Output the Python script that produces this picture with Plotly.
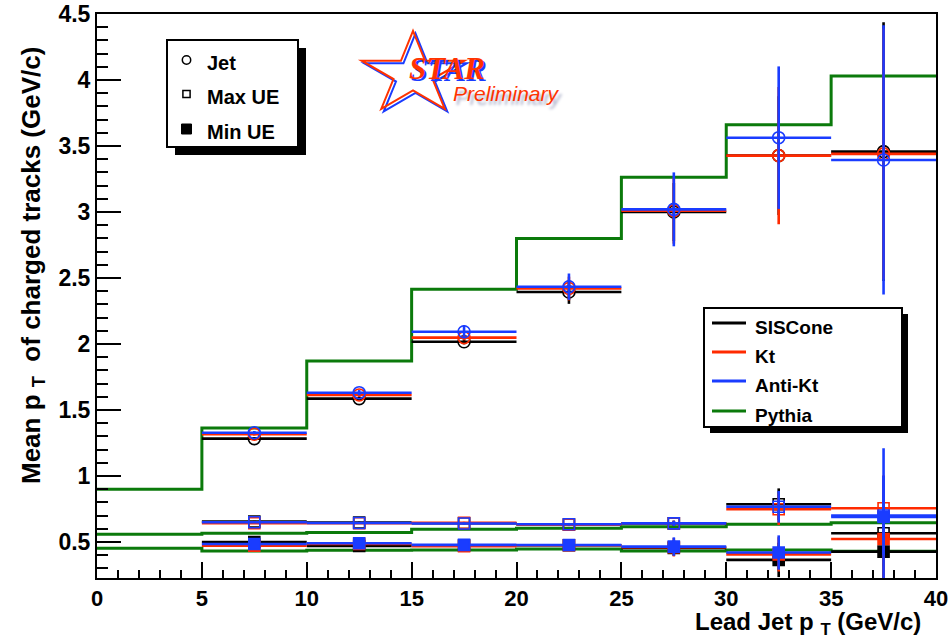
import numpy as np
import plotly.graph_objects as go

# ---- data -------------------------------------------------------------
bin_edges = [0, 5, 10, 15, 20, 25, 30, 35, 40]
data_edges = bin_edges[1:]              # measured bins start at 5 GeV/c

# mean pT of charged tracks, jet region
jet_siscone = [1.283, 1.586, 2.017, 2.394, 3.000, 3.427, 3.457]
jet_kt      = [1.316, 1.614, 2.048, 2.420, 3.010, 3.427, 3.440]
jet_antikt  = [1.328, 1.631, 2.093, 2.434, 3.020, 3.563, 3.394]
jet_err_siscone = [0.010, 0.015, 0.020, 0.090, 0.220, 0.450, 0.980]
jet_err_kt      = [0.010, 0.015, 0.020, 0.090, 0.250, 0.520, 0.950]
jet_err_antikt  = [0.012, 0.020, 0.050, 0.100, 0.280, 0.540, 1.020]

# Max UE region
max_siscone = [0.655, 0.648, 0.642, 0.632, 0.641, 0.786, 0.566]
max_kt      = [0.642, 0.642, 0.645, 0.630, 0.641, 0.748, 0.755]
max_antikt  = [0.649, 0.644, 0.640, 0.634, 0.641, 0.767, 0.700]
max_err_siscone = [0.005, 0.006, 0.008, 0.010, 0.020, 0.120, 0.250]
max_err_kt      = [0.005, 0.006, 0.008, 0.010, 0.020, 0.120, 0.250]
max_err_antikt  = [0.005, 0.006, 0.008, 0.010, 0.020, 0.120, 0.300]

# Min UE region
min_siscone = [0.500, 0.470, 0.475, 0.475, 0.455, 0.364, 0.427]
min_kt      = [0.472, 0.485, 0.468, 0.475, 0.460, 0.406, 0.523]
min_antikt  = [0.485, 0.490, 0.478, 0.477, 0.465, 0.420, 0.690]
min_err_siscone = [0.005, 0.006, 0.008, 0.010, 0.060, 0.130, 0.450]
min_err_kt      = [0.005, 0.006, 0.008, 0.010, 0.070, 0.130, 0.450]
min_err_antikt  = [0.005, 0.006, 0.008, 0.010, 0.070, 0.130, 0.520]

# Pythia predictions (histograms over all bins)
pythia_jet = [0.900, 1.364, 1.871, 2.414, 2.800, 3.263, 3.660, 4.030]
pythia_max = [0.558, 0.566, 0.571, 0.596, 0.604, 0.616, 0.634, 0.646]
pythia_min = [0.452, 0.432, 0.437, 0.440, 0.447, 0.432, 0.440, 0.430]

x_ticks = [0, 5, 10, 15, 20, 25, 30, 35, 40]
y_ticks = [0.5, 1, 1.5, 2, 2.5, 3, 3.5, 4, 4.5]
y_tick_text = ["0.5", "1", "1.5", "2", "2.5", "3", "3.5", "4", "4.5"]

algo_names = ["SISCone", "Kt", "Anti-Kt", "Pythia"]
region_names = ["Jet", "Max UE", "Min UE"]

# ---- style ------------------------------------------------------------
BLACK, RED, BLUE, GREEN = "#000000", "#ff2a00", "#1a3cff", "#0b7a0b"
FONT = "Liberation Sans, Arial, Helvetica, sans-serif"
W, H = 951, 641
ML, MR, MT, MB = 97, 15, 14, 63


def pxx(x):
    return (x - ML) / (W - ML - MR)


def pxy(y):
    return (H - MB - y) / (H - MT - MB)


centers = [(a + b) / 2 for a, b in zip(data_edges[:-1], data_edges[1:])]
halfw = [(b - a) / 2 for a, b in zip(data_edges[:-1], data_edges[1:])]

fig = go.Figure()

# Pythia step histograms
for vals in (pythia_jet, pythia_max, pythia_min):
    fig.add_trace(go.Scatter(
        x=bin_edges, y=vals + [vals[-1]], mode="lines", line_shape="hv",
        line=dict(color=GREEN, width=3), hoverinfo="skip", showlegend=False))

series = [
    (BLACK, [(jet_siscone, jet_err_siscone), (max_siscone, max_err_siscone), (min_siscone, min_err_siscone)]),
    (RED,   [(jet_kt, jet_err_kt), (max_kt, max_err_kt), (min_kt, min_err_kt)]),
    (BLUE,  [(jet_antikt, jet_err_antikt), (max_antikt, max_err_antikt), (min_antikt, min_err_antikt)]),
]
symbols = [("circle-open", 12), ("square-open", 11), ("square", 11)]

for color, regions in series:
    for (vals, errs), (sym, size) in zip(regions, symbols):
        fig.add_trace(go.Scatter(
            x=centers, y=vals, mode="markers",
            marker=dict(symbol=sym, size=size, color=color, line=dict(color=color, width=1.6)),
            error_x=dict(type="data", array=halfw, thickness=2.6, width=0, color=color),
            error_y=dict(type="data", array=errs, thickness=2.6, width=0, color=color),
            hoverinfo="skip", showlegend=False))

shapes = []
annotations = []


def box_with_shadow(x0, y0, x1, y1, off=8):
    shapes.append(dict(type="rect", xref="paper", yref="paper",
                       x0=pxx(x0 + off), x1=pxx(x1 + off), y0=pxy(y0 + off), y1=pxy(y1 + off),
                       fillcolor="black", line=dict(width=0)))
    shapes.append(dict(type="rect", xref="paper", yref="paper",
                       x0=pxx(x0), x1=pxx(x1), y0=pxy(y0), y1=pxy(y1),
                       fillcolor="white", line=dict(color="black", width=2)))


# region legend (marker styles)
box_with_shadow(167, 40, 298, 147)
reg_rows = [62, 96, 131]
for name, row, kind in zip(region_names, reg_rows, ["circle", "open", "filled"]):
    if kind == "circle":
        r = 4.2
        shapes.append(dict(type="circle", xref="paper", yref="paper",
                           x0=pxx(186.5 - r), x1=pxx(186.5 + r), y0=pxy(row - 2 - r), y1=pxy(row - 2 + r),
                           line=dict(color="black", width=1.5)))
    elif kind == "open":
        r = 3.6
        shapes.append(dict(type="rect", xref="paper", yref="paper",
                           x0=pxx(186.5 - r), x1=pxx(186.5 + r), y0=pxy(row - 2 - r), y1=pxy(row - 2 + r),
                           line=dict(color="black", width=1.5)))
    else:
        r = 5
        shapes.append(dict(type="rect", xref="paper", yref="paper",
                           x0=pxx(186.5 - r), x1=pxx(186.5 + r), y0=pxy(row - 2 - r), y1=pxy(row - 2 + r),
                           fillcolor="black", line=dict(color="black", width=1)))
    annotations.append(dict(text=name, xref="paper", yref="paper", x=pxx(205), y=pxy(row + 1),
                            xanchor="left", yanchor="middle", showarrow=False,
                            font=dict(family=FONT, size=20, color="black", weight="bold")))

# algorithm legend (line styles)
box_with_shadow(704, 308, 902, 427, off=6)
alg_rows = [323, 352, 381, 411]
for name, row, color in zip(algo_names, alg_rows, [BLACK, RED, BLUE, GREEN]):
    shapes.append(dict(type="line", xref="paper", yref="paper",
                       x0=pxx(712), x1=pxx(746), y0=pxy(row), y1=pxy(row),
                       line=dict(color=color, width=3)))
    annotations.append(dict(text=name, xref="paper", yref="paper", x=pxx(753), y=pxy(row + 4),
                            xanchor="left", yanchor="middle", showarrow=False,
                            font=dict(family=FONT, size=19, color="black", weight="bold")))

# STAR Preliminary logo
def star_path(cx, cy, rx, ry, inner, dx=0.0, dy=0.0):
    pts = []
    for k in range(10):
        ang = -np.pi / 2 + k * np.pi / 5
        f = 1.0 if k % 2 == 0 else inner
        pts.append((cx + dx + f * rx * np.cos(ang), cy + dy + f * ry * np.sin(ang)))
    return "M " + " L ".join(f"{pxx(x):.5f},{pxy(y):.5f}" for x, y in pts) + " Z"


shapes.append(dict(type="path", xref="paper", yref="paper",
                   path=star_path(413, 74, 54, 43, 0.38, 2.5, 2.5),
                   line=dict(color=BLUE, width=2)))
shapes.append(dict(type="path", xref="paper", yref="paper",
                   path=star_path(413, 74, 54, 43, 0.38),
                   line=dict(color="#ff3300", width=2)))
annotations.append(dict(text="<b><i>STAR</i></b>", xref="paper", yref="paper",
                        x=pxx(447), y=pxy(69), xanchor="center", yanchor="middle", showarrow=False,
                        font=dict(family="Liberation Serif, Times New Roman, serif", size=31,
                                  color="#ff3300", shadow="2px 2px 0px #1a3cff")))
annotations.append(dict(text="<i>Preliminary</i>", xref="paper", yref="paper",
                        x=pxx(506), y=pxy(93), xanchor="center", yanchor="middle", showarrow=False,
                        font=dict(family=FONT, size=21, color="#ff3300",
                                  shadow="3px 4px 3px #a9aec8")))

# axis titles
annotations.append(dict(text="Lead Jet p\u00a0<sub>T</sub>\u00a0(GeV/c)", xref="paper", yref="paper",
                        x=pxx(923), y=pxy(641), xanchor="right", yanchor="bottom", showarrow=False,
                        font=dict(family=FONT, size=24, color="black", weight="bold")))
annotations.append(dict(text="Mean p\u00a0<sub>T</sub>\u00a0 of charged tracks (GeV/c)", xref="paper", yref="paper",
                        x=pxx(32), y=pxy(266), xanchor="center", yanchor="middle", showarrow=False,
                        textangle=-90,
                        font=dict(family=FONT, size=26, color="black", weight="bold")))

fig.update_layout(
    width=W, height=H,
    margin=dict(l=ML, r=MR, t=MT, b=MB, pad=0, autoexpand=False),
    paper_bgcolor="white", plot_bgcolor="white",
    showlegend=False,
    shapes=shapes, annotations=annotations,
    xaxis=dict(range=[0, 40], tickmode="array", tickvals=x_ticks, automargin=False,
               ticks="inside", ticklen=16, tickwidth=1.5, tickcolor="black",
               minor=dict(ticks="inside", ticklen=8, tickwidth=1.5, tickcolor="black",
                          tickmode="linear", tick0=0, dtick=1),
               showline=True, linecolor="black", linewidth=2, mirror=True,
               showgrid=False, zeroline=False,
               tickfont=dict(family=FONT, size=22, color="black", weight="bold")),
    yaxis=dict(range=[0.227, 4.5], tickmode="array", tickvals=y_ticks, ticktext=y_tick_text,
               automargin=False,
               ticks="inside", ticklen=24, tickwidth=1.5, tickcolor="black",
               minor=dict(ticks="inside", ticklen=11, tickwidth=1.5, tickcolor="black",
                          tickmode="linear", tick0=0, dtick=0.1),
               showline=True, linecolor="black", linewidth=2, mirror=True,
               showgrid=False, zeroline=False,
               tickfont=dict(family=FONT, size=23, color="black", weight="bold")),
)

fig.write_html("out.html")
